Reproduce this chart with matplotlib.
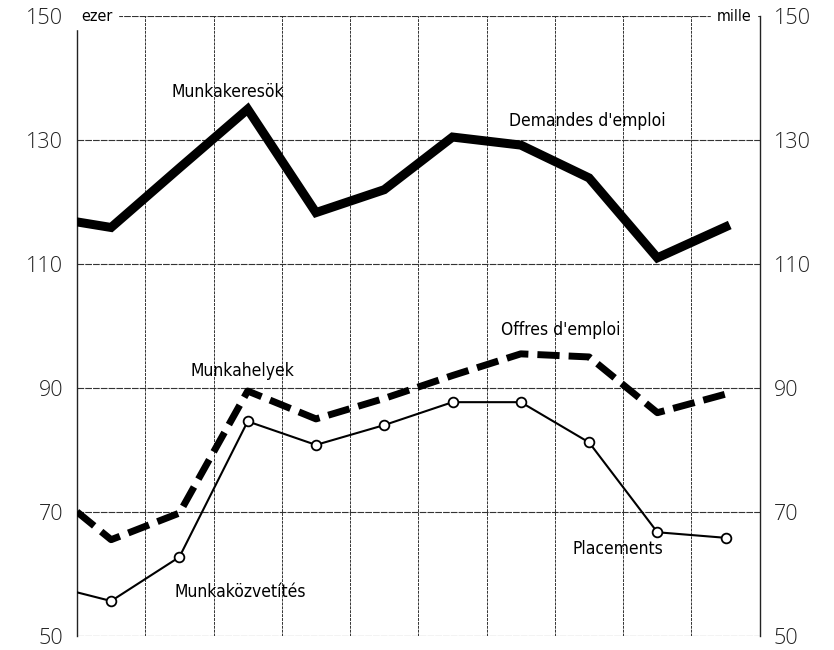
import numpy as np
import matplotlib.pyplot as plt

# x positions: the first value sits on the left edge, then mid-interval points
x_pos = [0, 0.5, 1.5, 2.5, 3.5, 4.5, 5.5, 6.5, 7.5, 8.5, 9.5]
demandes = [116.8, 115.9, 125.5, 135.0, 118.3, 122.0, 130.5, 129.2, 123.9, 111.0, 116.0]
offres = [70.0, 65.5, 69.8, 89.5, 85.0, 88.3, 92.0, 95.5, 95.0, 86.0, 89.0]
placements = [57.0, 55.6, 62.7, 84.6, 80.8, 84.0, 87.7, 87.7, 81.2, 66.7, 65.8]
y_ticks = [50, 70, 90, 110, 130, 150]

label_font = ['DejaVu Sans']

fig = plt.figure(figsize=(8.34, 6.5), dpi=100)
ax = fig.add_axes([0.0923, 0.022, 0.8187, 0.953])
ax.set_xlim(0, 10)
ax.set_ylim(50, 150)

### grid
for gx in range(0, 11):
    ax.axvline(gx, color='#333333', lw=0.7, ls=(0, (3, 1)), zorder=1)
for gy in y_ticks:
    ax.axhline(gy, color='#333333', lw=0.8, ls=(0, (6, 1)), zorder=1)

for side in ['top', 'bottom']:
    ax.spines[side].set_visible(False)
for side in ['left', 'right']:
    ax.spines[side].set_linewidth(1.0)
    ax.spines[side].set_color('#222222')

### series
ax.plot(x_pos, demandes, color='black', lw=6.5, solid_joinstyle='miter', zorder=3)
ax.plot(x_pos, offres, color='black', lw=5, ls=(0, (3.2, 1.3)), zorder=3)
ax.plot(x_pos, placements, color='black', lw=1.5, marker='o', markersize=7,
        markerfacecolor='white', markeredgecolor='black', markeredgewidth=1.3,
        markevery=list(range(1, len(x_pos))), zorder=4)

### tick labels on both sides
ax.set_xticks([])
ax.set_yticks(y_ticks)
ax.tick_params(axis='y', length=0, pad=10, labelsize=15.5, labelcolor='#222222',
               left=True, right=True, labelleft=True, labelright=True)
for lab in ax.get_yticklabels():
    lab.set_fontfamily(['Open Sans', 'DejaVu Sans'])
    lab.set_fontweight('light')

### annotations
kw = dict(fontsize=12.5, family=label_font, fontstretch='condensed',
          ha='center', va='center', zorder=5)
ax.text(2.21, 137.8, 'Munkakeresök', **kw)
ax.text(7.48, 133.1, "Demandes d'emploi", **kw)
ax.text(7.08, 99.3, "Offres d'emploi", **kw)
ax.text(2.43, 92.7, 'Munkahelyek', **kw)
ax.text(2.39, 57.1, 'Munkaközvetítés', **kw)
ax.text(7.92, 64.0, 'Placements', **kw)
ax.text(0.06, 150, 'ezer', fontsize=11.5, family=label_font, fontstretch='condensed',
        ha='left', va='center', backgroundcolor='white', zorder=5)
ax.text(9.88, 150, 'mille', fontsize=11.5, family=label_font, fontstretch='condensed',
        ha='right', va='center', backgroundcolor='white', zorder=5)

fig.savefig('out.png', dpi=100, facecolor='white')
